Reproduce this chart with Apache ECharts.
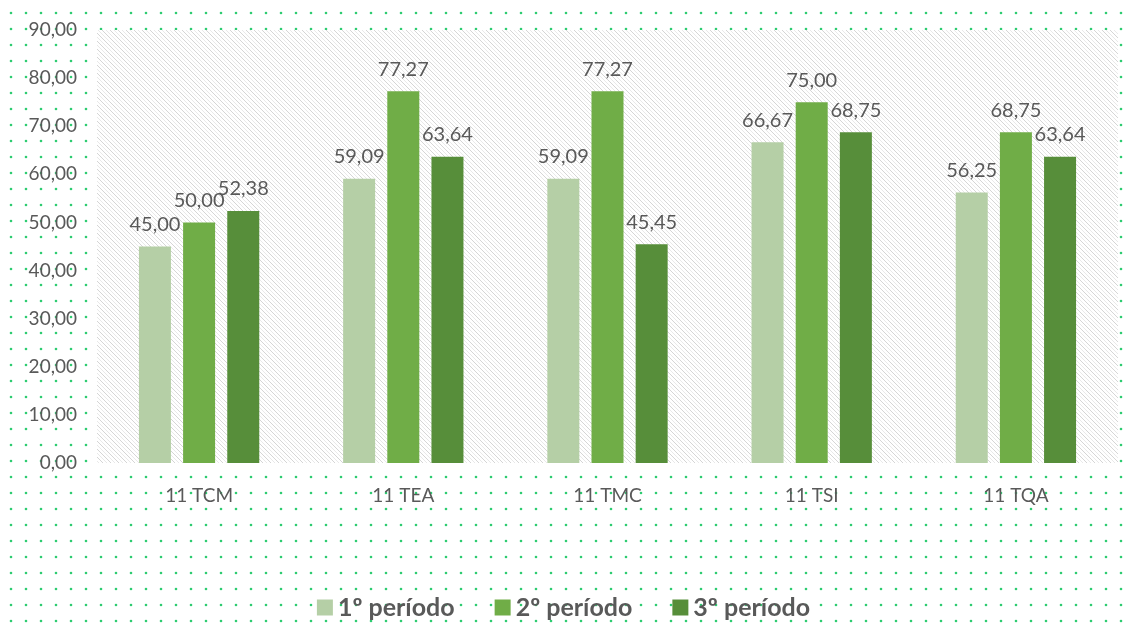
<!DOCTYPE html>
<html>
<head>
<meta charset="utf-8">
<script src="https://cdn.jsdelivr.net/npm/echarts@6/dist/echarts.min.js"></script>
<style>
  html, body { margin: 0; padding: 0; background: #fff; }
  #chart { width: 1127px; height: 633px; }
</style>
</head>
<body>
<div id="chart"></div>
<script>
// dados
var turmas = ["11 TCM", "11 TEA", "11 TMC", "11 TSI", "11 TQA"];
var periodos = ["1º período", "2º período", "3º período"];
var p1 = [45.00, 59.09, 59.09, 66.67, 56.25];
var p2 = [50.00, 77.27, 77.27, 75.00, 68.75];
var p3 = [52.38, 63.64, 45.45, 68.75, 63.64];
var cores = ["#b5cfa6", "#70ad47", "#578e3a"];

// fundo pontilhado verde
function dotPattern() {
  var c = document.createElement("canvas");
  c.width = 15;
  c.height = 16;
  var ctx = c.getContext("2d");
  ctx.fillStyle = "#fff";
  ctx.fillRect(0, 0, 15, 16);
  ctx.fillStyle = "#2ecc71";
  ctx.beginPath();
  ctx.arc(11, 13, 1.3, 0, Math.PI * 2);
  ctx.fill();
  return c;
}

// textura cinza da área do gráfico
function hatchPattern() {
  var c = document.createElement("canvas");
  c.width = 8;
  c.height = 8;
  var ctx = c.getContext("2d");
  ctx.fillStyle = "#fff";
  ctx.fillRect(0, 0, 8, 8);
  for (var i = 0; i < 8; i++) {
    ctx.fillStyle = "rgba(185,185,185,0.6)";
    ctx.fillRect(i, i, 1, 1);
    ctx.fillStyle = "rgba(200,200,200,0.4)";
    ctx.fillRect((i + 4) % 8, i, 1, 1);
  }
  return c;
}

var chart = echarts.init(document.getElementById("chart"));

function fmt(v) {
  return Number(v).toFixed(2).replace(".", ",");
}

var series = [p1, p2, p3].map(function (d, i) {
  return {
    name: periodos[i],
    type: "bar",
    data: d,
    barWidth: 32,
    barGap: "38%",
    itemStyle: { color: cores[i] },
    label: {
      show: true,
      position: "top",
      distance: 12,
      color: "#595959",
      fontSize: 20,
      fontFamily: "Lato",
      formatter: function (p) { return fmt(p.value); }
    }
  };
});

var option = {
  backgroundColor: { image: dotPattern(), repeat: "repeat" },
  animation: false,
  grid: {
    left: 97,
    right: 9,
    top: 30,
    bottom: 170,
    show: true,
    borderWidth: 0,
    backgroundColor: { image: hatchPattern(), repeat: "repeat" }
  },
  legend: {
    bottom: 8,
    left: "center",
    itemWidth: 16,
    itemHeight: 16,
    itemGap: 40,
    icon: "rect",
    textStyle: {
      color: "#595959",
      fontSize: 25,
      fontWeight: "bold",
      fontFamily: "Lato"
    },
    data: periodos
  },
  xAxis: {
    type: "category",
    data: turmas,
    axisLine: { show: false },
    axisTick: { show: false },
    axisLabel: {
      color: "#595959",
      fontSize: 19,
      fontFamily: "Lato",
      margin: 23
    }
  },
  yAxis: {
    type: "value",
    min: 0,
    max: 90,
    interval: 10,
    splitLine: { show: false },
    axisLine: { show: false },
    axisTick: { show: false },
    axisLabel: {
      color: "#595959",
      fontSize: 19,
      fontFamily: "Lato",
      margin: 20,
      formatter: fmt
    }
  },
  series: series
};

chart.setOption(option);
</script>
</body>
</html>
